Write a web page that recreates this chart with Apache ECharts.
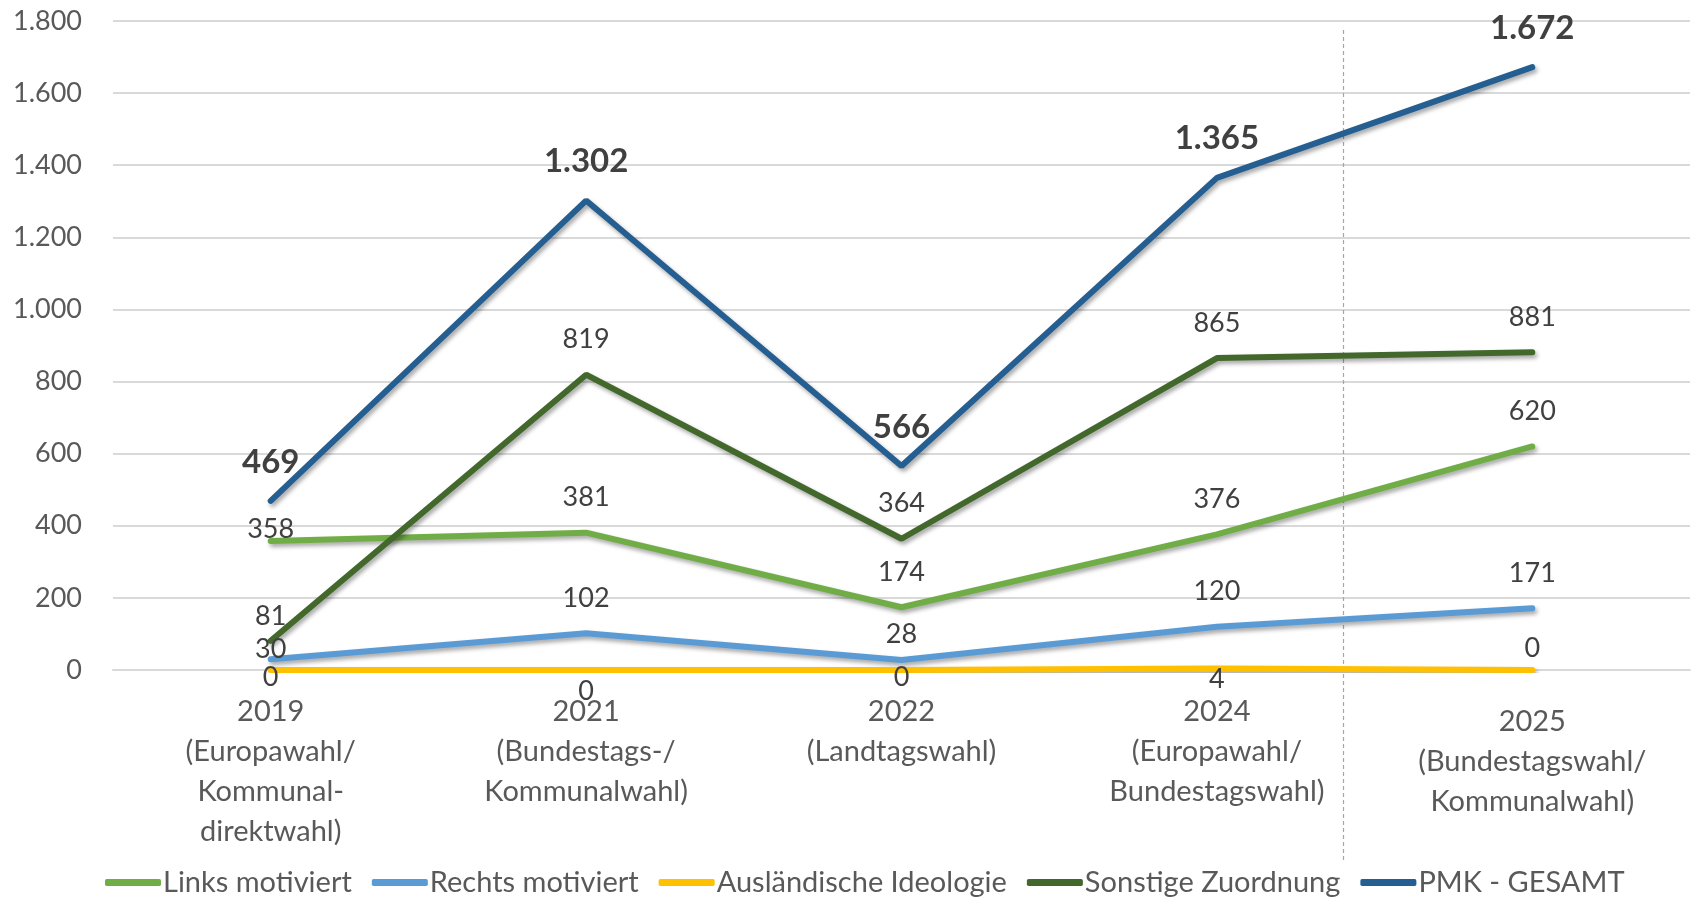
<!DOCTYPE html>
<html><head><meta charset="utf-8">
<script src="https://cdn.jsdelivr.net/npm/echarts@6/dist/echarts.min.js"></script>
<style>html,body{margin:0;padding:0;background:#fff}#c{width:1691px;height:898px}</style>
</head><body><div id="c"></div>
<script>
const categories = ['2019\n(Europawahl/\nKommunal-\ndirektwahl)','2021\n(Bundestags-/\nKommunalwahl)','2022\n(Landtagswahl)','2024\n(Europawahl/\nBundestagswahl)','2025\n(Bundestagswahl/\nKommunalwahl)'];
const linksMotiviert = [358, 381, 174, 376, 620];
const rechtsMotiviert = [30, 102, 28, 120, 171];
const auslaendischeIdeologie = [0, 0, 0, 4, 0];
const sonstigeZuordnung = [81, 819, 364, 865, 881];
const pmkGesamt = [469, 1302, 566, 1365, 1672];
const yTicks = [0, 200, 400, 600, 800, 1000, 1200, 1400, 1600, 1800];

const FONT = 'Lato';
const fmt = v => String(v).replace(/\B(?=(\d{3})+(?!\d))/g, '.');

// per-point label placement tweaks (position, distance)
const labelTweaks = {
  links: {0: ['top', -2]},
  rechts: {0: ['top', -4], 2: ['top', 12]},
  ausl: {0: ['bottom', -7], 1: ['bottom', 7], 2: ['bottom', -7], 3: ['bottom', -3], 4: ['top', 8]},
  sonst: {0: ['top', 10]},
  pmk: {}
};
function buildData(values, tweaks) {
  return values.map((v, i) => {
    const t = tweaks[i];
    return t ? {value: v, label: {position: t[0], distance: t[1]}} : {value: v};
  });
}
const seriesDefs = [
  ['Links motiviert', linksMotiviert, '#70AD47', labelTweaks.links, false],
  ['Rechts motiviert', rechtsMotiviert, '#5B9BD5', labelTweaks.rechts, false],
  ['Ausländische Ideologie', auslaendischeIdeologie, '#FFC000', labelTweaks.ausl, false],
  ['Sonstige Zuordnung', sonstigeZuordnung, '#43682B', labelTweaks.sonst, false],
  ['PMK - GESAMT', pmkGesamt, '#255E91', labelTweaks.pmk, true]
];
function mkSeries([name, values, color, tweaks, bold]) {
  return {
    name, type: 'line', data: buildData(values, tweaks),
    showSymbol: true, symbol: 'circle', symbolSize: 1,
    lineStyle: {color, width: 6, cap: 'round', shadowColor: 'rgba(0,0,0,0.35)', shadowBlur: 4, shadowOffsetX: 2, shadowOffsetY: 3},
    itemStyle: {color, opacity: 0},
    label: {show: true, position: 'top', distance: bold ? 22 : 21, formatter: p => fmt(p.value),
      fontFamily: FONT, fontSize: bold ? 33 : 27, fontWeight: bold ? 'bold' : 'normal', color: '#404040', opacity: 1},
    emphasis: {disabled: true}
  };
}

const chart = echarts.init(document.getElementById('c'));
chart.setOption({
  animation: false,
  grid: {left: 113, right: 1, top: 21, bottom: 228},
  xAxis: {
    type: 'category', boundaryGap: true,
    data: categories.map((c, i) => i === 4 ? {value: c, textStyle: {padding: [10, 0, 0, 0]}} : c),
    axisLine: {show: true, lineStyle: {color: '#D9D9D9', width: 2}},
    axisTick: {show: false},
    axisLabel: {interval: 0, margin: 22, fontFamily: FONT, fontSize: 29, lineHeight: 40, color: '#595959'}
  },
  yAxis: {
    type: 'value', min: yTicks[0], max: yTicks[yTicks.length - 1], interval: yTicks[1] - yTicks[0],
    axisLine: {show: false}, axisTick: {show: false},
    splitLine: {lineStyle: {color: '#D9D9D9', width: 2}},
    axisLabel: {margin: 31, fontFamily: FONT, fontSize: 27, color: '#595959', formatter: v => fmt(v)}
  },
  legend: {
    left: 100, bottom: -4, itemGap: 20, itemWidth: 56, itemHeight: 7, icon: 'roundRect',
    data: seriesDefs.map(d => ({name: d[0], itemStyle: {color: d[2], opacity: 1}})),
    textStyle: {fontFamily: FONT, fontSize: 29, color: '#595959', padding: [0, 0, 0, -3]}
  },
  series: seriesDefs.map(mkSeries)
});
// vertical dashed separator between 2024 and 2025
const x3 = chart.convertToPixel({xAxisIndex: 0}, categories[3]);
const x4 = chart.convertToPixel({xAxisIndex: 0}, categories[4]);
const xs = Math.round(x3 + (x4 - x3) * 0.4) + 0.5;
chart.setOption({graphic: [{type: 'line', silent: true, z: 0,
  shape: {x1: xs, y1: 30, x2: xs, y2: 862},
  style: {stroke: '#A6A6A6', lineWidth: 1.2, lineDash: [4, 3]}}]});
</script></body></html>
